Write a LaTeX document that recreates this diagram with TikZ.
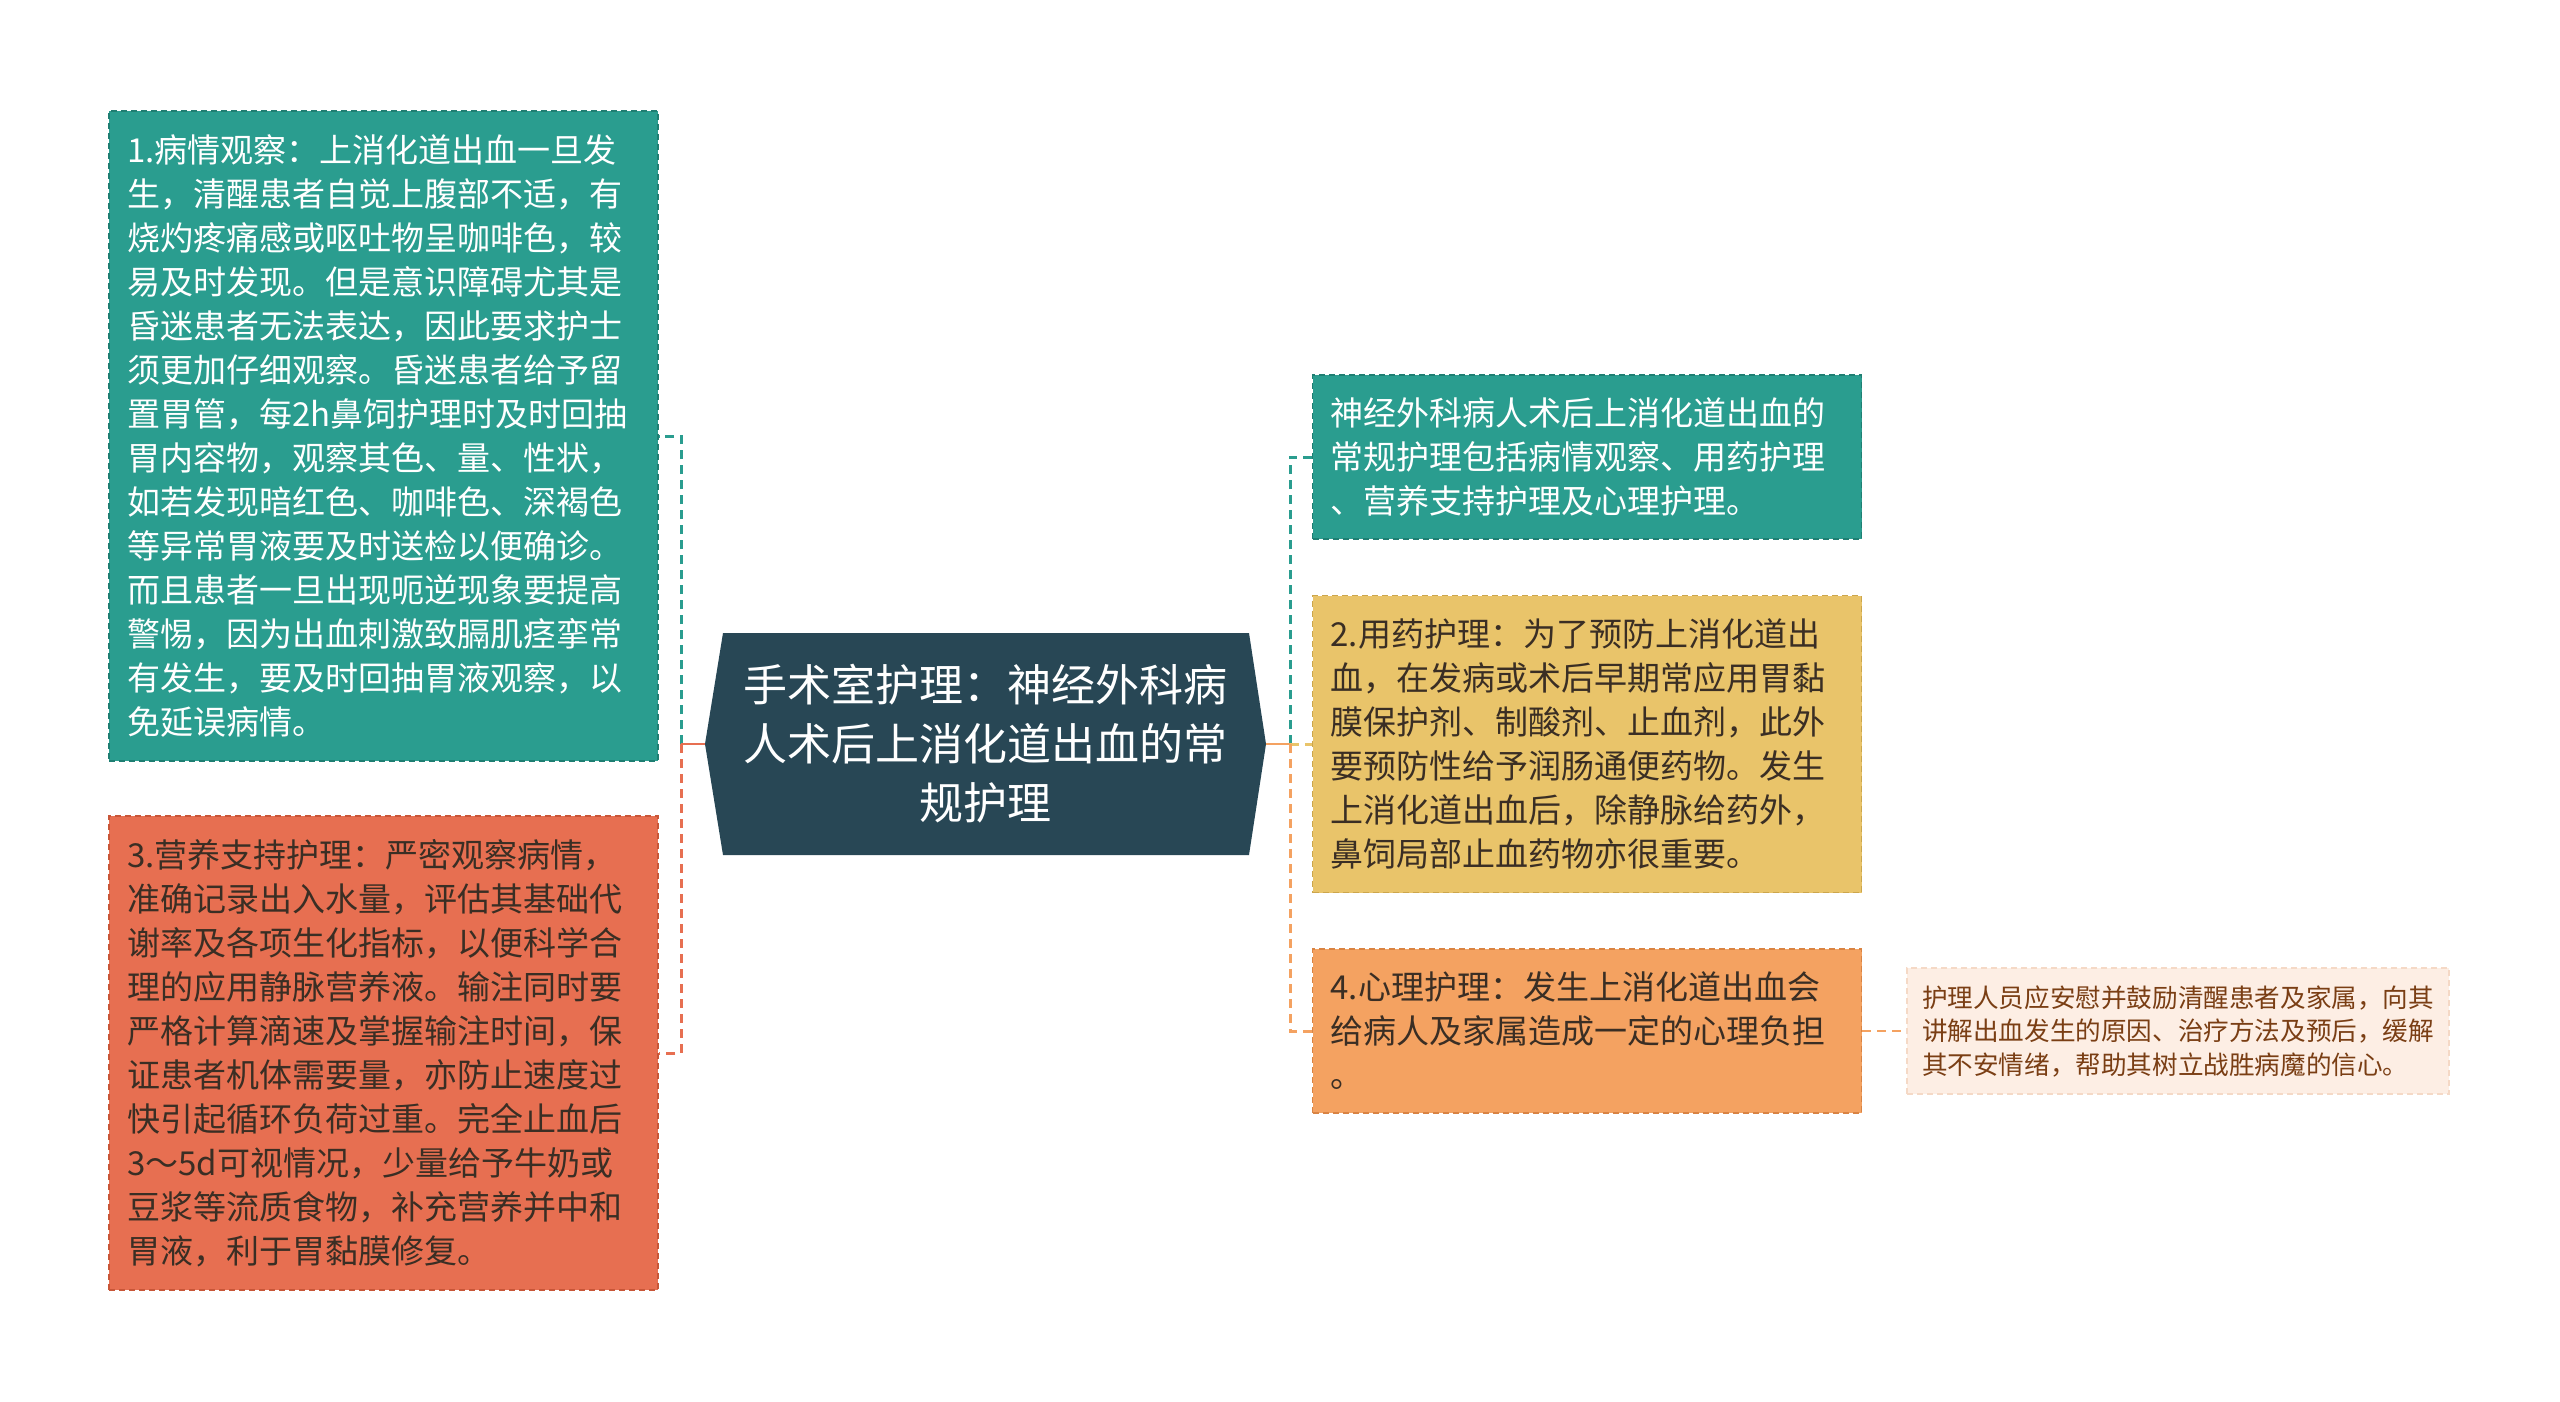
\documentclass[tikz,border=0pt]{standalone}
\usepackage{fontspec}
\setmainfont{Noto Sans CJK SC}
\newfontfamily\cjk{Noto Sans CJK SC}
\definecolor{cteal}{HTML}{2A9D8F}
\definecolor{cteald}{HTML}{1F7E72}
\definecolor{cred}{HTML}{E76F51}
\definecolor{credd}{HTML}{C85638}
\definecolor{cyel}{HTML}{E9C46A}
\definecolor{cyeld}{HTML}{CCA64C}
\definecolor{corg}{HTML}{F4A261}
\definecolor{corgd}{HTML}{D98444}
\definecolor{cdark}{HTML}{284755}
\definecolor{cpeach}{HTML}{FDEEE4}
\definecolor{cpeachd}{HTML}{F5D9C6}
\definecolor{cbrown}{HTML}{7A3E14}
\definecolor{ctext}{HTML}{3A2E24}
\begin{document}
\begin{tikzpicture}[x=1pt,y=-1pt,
  box/.style={draw, line width=1.6pt, dash pattern=on 6pt off 4pt, anchor=center,
    inner xsep=18pt, inner ysep=0pt, align=left,
    font=\cjk\fontsize{33}{44}\selectfont},
  conn/.style={line width=3pt, dash pattern=on 9pt off 6pt},
  stub/.style={line width=2.5pt}]
\useasboundingbox (0,0) rectangle (2560,1401);
\fill[white] (0,0) rectangle (2560,1401);
% central node
\coordinate (cw) at (705,744);
\coordinate (ce) at (1266,744);
\coordinate (jl) at (681,744);
\coordinate (jr) at (1290,744);
\fill[cdark] (723,633) -- (1249,633) -- (ce) -- (1249,855) -- (723,855) -- (cw) -- cycle;
\node[text=white, align=center, font=\cjk\fontsize{44}{59}\selectfont] (c) at (985,744)
  {手术室护理：神经外科病\\人术后上消化道出血的常\\规护理};
% left boxes
\node[box, fill=cteal, draw=cteald, text=white, text width=513pt, minimum height=650pt] (L1) at (383.5,436)
  {1.病情观察：上消化道出血一旦发\\生，清醒患者自觉上腹部不适，有\\烧灼疼痛感或呕吐物呈咖啡色，较\\易及时发现。但是意识障碍尤其是\\昏迷患者无法表达，因此要求护士\\须更加仔细观察。昏迷患者给予留\\置胃管，每2h鼻饲护理时及时回抽\\胃内容物，观察其色、量、性状，\\如若发现暗红色、咖啡色、深褐色\\等异常胃液要及时送检以便确诊。\\而且患者一旦出现呃逆现象要提高\\警惕，因为出血刺激致膈肌痉挛常\\有发生，要及时回抽胃液观察，以\\免延误病情。};
\node[box, fill=cred, draw=credd, text=ctext, text width=513pt, minimum height=474pt] (L2) at (383.5,1053)
  {3.营养支持护理：严密观察病情，\\准确记录出入水量，评估其基础代\\谢率及各项生化指标，以便科学合\\理的应用静脉营养液。输注同时要\\严格计算滴速及掌握输注时间，保\\证患者机体需要量，亦防止速度过\\快引起循环负荷过重。完全止血后\\3～5d可视情况，少量给予牛奶或\\豆浆等流质食物，补充营养并中和\\胃液，利于胃黏膜修复。};
% right boxes
\node[box, fill=cteal, draw=cteald, text=white, text width=513pt, minimum height=164pt] (R1) at (1587,457)
  {神经外科病人术后上消化道出血的\\常规护理包括病情观察、用药护理\\、营养支持护理及心理护理。};
\node[box, fill=cyel, draw=cyeld, text=ctext, text width=513pt, minimum height=297pt] (R2) at (1587,744)
  {2.用药护理：为了预防上消化道出\\血，在发病或术后早期常应用胃黏\\膜保护剂、制酸剂、止血剂，此外\\要预防性给予润肠通便药物。发生\\上消化道出血后，除静脉给药外，\\鼻饲局部止血药物亦很重要。};
\node[box, fill=corg, draw=corgd, text=ctext, text width=513pt, minimum height=164pt] (R3) at (1587,1031)
  {4.心理护理：发生上消化道出血会\\给病人及家属造成一定的心理负担\\。};
\node[box, fill=cpeach, draw=cpeachd, text=cbrown, inner xsep=15pt, text width=512pt, minimum height=126pt,
  font=\cjk\fontsize{25.6}{33.5}\selectfont] (FR) at (2178,1031)
  {护理人员应安慰并鼓励清醒患者及家属，向其\\讲解出血发生的原因、治疗方法及预后，缓解\\其不安情绪，帮助其树立战胜病魔的信心。};
% connectors
\draw[conn, cteal] (jl) |- (L1.east);
\draw[conn, cred] (jl) |- (L2.east);
\draw[stub, cred] (cw) -- (jl);
\draw[conn, cteal] (jr) |- (R1.west);
\draw[conn, cyel] (jr) |- (R2.west);
\draw[conn, corg] (jr) |- (R3.west);
\draw[stub, corg] (ce) -- (jr);
\draw[line width=2pt, dash pattern=on 9pt off 6pt, corg] (R3.east) -- (FR.west);
\end{tikzpicture}
\end{document}
